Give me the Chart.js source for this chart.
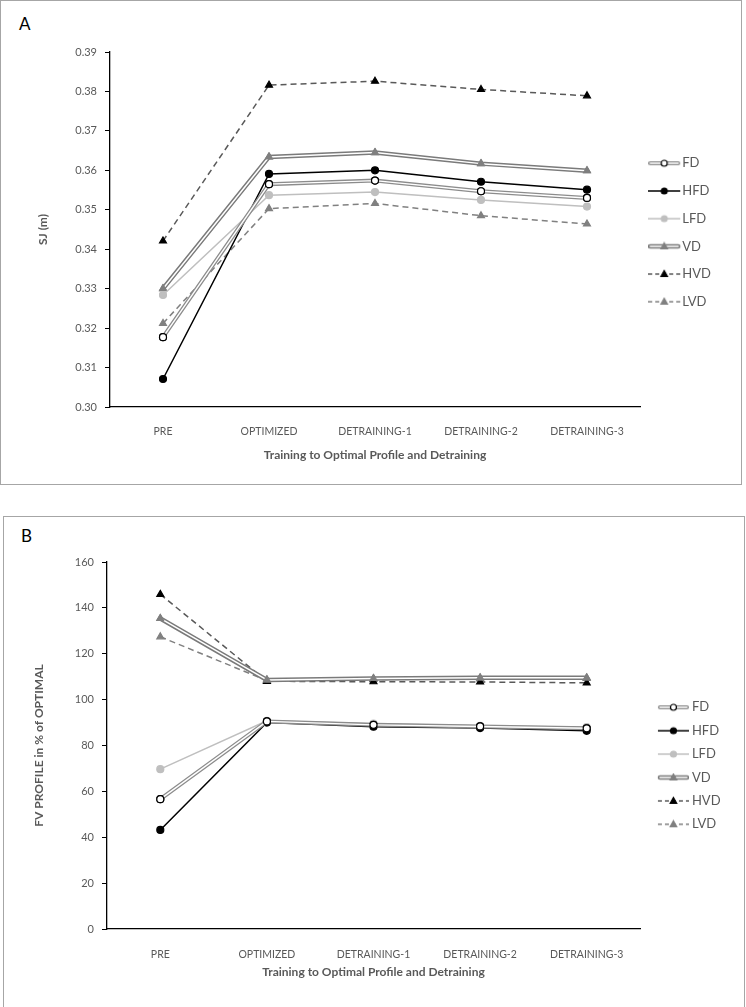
<!DOCTYPE html>
<html>
<head>
<meta charset="utf-8">
<script src="https://cdn.jsdelivr.net/npm/chart.js@4.4.1/dist/chart.umd.min.js"></script>
<style>
  body { margin: 0; background: #fff; width: 746px; height: 1007px; position: relative; overflow: hidden; }
  .frame { position: absolute; box-sizing: border-box; border: 1.5px solid #a6a6a6; }
  .tag { position: absolute; font-family: Lato, sans-serif; font-size: 17px; color: #000; }
  canvas { position: absolute; left: 0; }
</style>
</head>
<body>
<div class="frame" style="left:0;top:0;width:742px;height:485px"></div>
<div class="tag" style="left:19px;top:13px">A</div>
<canvas id="chartA" width="742" height="484" style="top:0"></canvas>

<div class="frame" style="left:3px;top:516px;width:742px;height:500px"></div>
<div class="tag" style="left:21px;top:525px">B</div>
<canvas id="chartB" width="746" height="491" style="top:516px"></canvas>

<script>
// categorias del eje x
var fases = ['PRE', 'OPTIMIZED', 'DETRAINING-1', 'DETRAINING-2', 'DETRAINING-3'];
var grupos = ['FD', 'HFD', 'LFD', 'VD', 'HVD', 'LVD'];

// Panel A: SJ (m)
var sjFD  = [0.3177, 0.3565, 0.3574, 0.3547, 0.3530];
var sjHFD = [0.3071, 0.3591, 0.3600, 0.3571, 0.3551];
var sjLFD = [0.3284, 0.3537, 0.3545, 0.3525, 0.3508];
var sjVD  = [0.3300, 0.3634, 0.3645, 0.3617, 0.3599];
var sjHVD = [0.3421, 0.3816, 0.3826, 0.3805, 0.3789];
var sjLVD = [0.3212, 0.3503, 0.3516, 0.3485, 0.3464];
var sjMin = 0.30, sjMax = 0.39, sjPaso = 0.01;

// Panel B: FV PROFILE in % of OPTIMAL
var fvFD  = [56.6, 90.5, 89.0, 88.3, 87.5];
var fvHFD = [43.2, 90.0, 88.2, 87.6, 86.4];
var fvLFD = [69.7, 90.8, 89.5, 88.6, 88.0];
var fvVD  = [135.4, 108.6, 109.2, 109.5, 109.5];
var fvHVD = [145.9, 108.0, 107.8, 107.7, 107.3];
var fvLVD = [127.4, 108.3, 108.8, 109.0, 109.2];
var fvMin = 0, fvMax = 160, fvPaso = 20;

var gris = '#595959';
var fuente = 'Lato, sans-serif';

// estilo de cada serie (mismo orden que grupos)
var estilos = [
  { color: '#8c8c8c', ancho: 4, interior: 1.4, marca: 'circle', relleno: '#fff', borde: '#000', radio: 3.5 },
  { color: '#000000', ancho: 1.5, marca: 'circle', relleno: '#000', borde: '#000', radio: 3.5 },
  { color: '#bfbfbf', ancho: 1.5, marca: 'circle', relleno: '#bfbfbf', borde: '#bfbfbf', radio: 3.5 },
  { color: '#7a7a7a', ancho: 4.5, interior: 1.5, marca: 'triangle', relleno: '#7f7f7f', borde: '#7f7f7f', radio: 4 },
  { color: '#595959', ancho: 1.5, guion: [6, 4], marca: 'triangle', relleno: '#000', borde: '#000', radio: 4 },
  { color: '#808080', ancho: 1.5, guion: [6, 4], marca: 'triangle', relleno: '#808080', borde: '#808080', radio: 4 }
];

// linea doble: se repinta el centro en blanco y luego los puntos
var lineaDoble = {
  id: 'lineaDoble',
  afterDatasetDraw: function (chart, args) {
    var ds = chart.data.datasets[args.index];
    if (!ds.interior) return;
    var pts = args.meta.data;
    var ctx = chart.ctx;
    ctx.save();
    ctx.strokeStyle = '#fff';
    ctx.lineWidth = ds.interior;
    ctx.lineJoin = 'round';
    ctx.beginPath();
    pts.forEach(function (p, i) { if (i === 0) ctx.moveTo(p.x, p.y); else ctx.lineTo(p.x, p.y); });
    ctx.stroke();
    pts.forEach(function (p) { p.draw(ctx, chart.chartArea); });
    ctx.restore();
  }
};

// icono de la leyenda: tramo de linea con la marca en el centro
function iconoLeyenda(e, largo, dx) {
  var c = document.createElement('canvas');
  var extra = Math.abs(dx) * 2;
  c.width = Math.round(largo + extra);
  c.height = 10;
  var g = c.getContext('2d');
  var x0 = dx > 0 ? extra : 0;
  var y = 5;
  g.lineCap = e.interior ? 'round' : 'butt';
  g.strokeStyle = e.color;
  g.lineWidth = e.ancho;
  g.setLineDash(e.guion ? [4, 3] : []);
  g.beginPath();
  g.moveTo(x0 + (e.interior ? 2 : 0), y);
  g.lineTo(x0 + largo - (e.interior ? 2 : 0), y);
  g.stroke();
  if (e.interior) {
    g.strokeStyle = '#fff';
    g.lineWidth = e.interior;
    g.beginPath();
    g.moveTo(x0 + 2, y);
    g.lineTo(x0 + largo - 2, y);
    g.stroke();
  }
  g.setLineDash([]);
  var cx = x0 + largo / 2;
  g.fillStyle = e.relleno;
  g.strokeStyle = e.borde;
  g.lineWidth = 1.2;
  g.beginPath();
  if (e.marca === 'circle') {
    g.arc(cx, y, 3, 0, Math.PI * 2);
  } else {
    g.moveTo(cx, y - 3.5);
    g.lineTo(cx + 3.3, y + 2.5);
    g.lineTo(cx - 3.3, y + 2.5);
    g.closePath();
  }
  g.fill();
  g.stroke();
  return c;
}

function crearSeries(valores) {
  return valores.map(function (datos, i) {
    var e = estilos[i];
    return {
      label: grupos[i],
      data: datos,
      borderColor: e.color,
      borderWidth: e.ancho,
      borderDash: e.guion || [],
      interior: e.interior,
      tension: 0,
      fill: false,
      pointStyle: e.marca,
      pointRadius: e.radio,
      pointBackgroundColor: e.relleno,
      pointBorderColor: e.borde,
      pointBorderWidth: 1.2
    };
  });
}

function crearGrafico(id, cfg) {
  var iconos = estilos.map(function (e) { return iconoLeyenda(e, cfg.iconoLargo, cfg.iconoDx); });
  var chart = new Chart(document.getElementById(id), {
    type: 'line',
    data: { labels: fases, datasets: crearSeries(cfg.series) },
    plugins: [lineaDoble],
    options: {
      responsive: false,
      animation: false,
      devicePixelRatio: 1,
      layout: { padding: { left: 0, top: cfg.arriba, right: 20, bottom: 0 } },
      plugins: {
        tooltip: { enabled: false },
        legend: {
          position: 'right',
          fullSize: false,
          title: { display: true, text: ' ', font: { size: 1 }, padding: cfg.tituloLeyenda },
          labels: {
            usePointStyle: true,
            pointStyleWidth: cfg.cajaLeyenda,
            padding: cfg.sepLeyenda,
            color: gris,
            font: { family: fuente, size: 13 },
            generateLabels: function (ch) {
              return ch.data.datasets.map(function (ds, i) {
                return { text: ds.label, pointStyle: iconos[i], datasetIndex: i, lineWidth: 0, fontColor: gris, hidden: false };
              });
            }
          }
        }
      },
      scales: {
        x: {
          offset: true,
          grid: { display: false, offset: true },
          border: { display: true, color: '#000', width: 1.3 },
          ticks: { color: gris, font: { family: fuente, size: 10.5 }, padding: cfg.xPad, maxRotation: 0, autoSkip: false },
          title: { display: true, text: 'Training to Optimal Profile and Detraining', color: gris,
                   font: { family: fuente, size: 12, weight: 'bold' }, padding: { top: 0, bottom: cfg.xTituloPad } },
          afterFit: function (s) { s.height = cfg.altoX; }
        },
        y: {
          min: cfg.min, max: cfg.max,
          grid: { drawOnChartArea: false, drawTicks: true, tickLength: 5, color: '#000', lineWidth: 1 },
          border: { display: true, color: '#000', width: 1.3 },
          ticks: {
            stepSize: cfg.paso, padding: 8, color: gris, font: { family: fuente, size: 11 },
            callback: function (v) { return Number(v).toFixed(cfg.decimales); }
          },
          title: { display: true, text: cfg.tituloY, color: gris,
                   font: { family: fuente, size: 12, weight: 'bold' }, padding: { top: cfg.yTituloPad, bottom: 0 } },
          afterFit: function (s) { s.width = cfg.anchoY; }
        }
      }
    }
  });
  // ajustar para que el area del grafico termine en el mismo sitio que el original
  var dif = chart.chartArea.right - cfg.derecha;
  chart.options.layout.padding.right += dif;
  chart.update('none');
  return chart;
}

crearGrafico('chartA', {
  series: [sjFD, sjHFD, sjLFD, sjVD, sjHVD, sjLVD],
  min: sjMin, max: sjMax, paso: sjPaso, decimales: 2,
  tituloY: 'SJ (m)',
  arriba: 52, altoX: 77, anchoY: 110, derecha: 640,
  xPad: 10, xTituloPad: 22, yTituloPad: 36,
  sepLeyenda: 14.7, cajaLeyenda: 21, iconoLargo: 32, iconoDx: -1, tituloLeyenda: 2.4
});

crearGrafico('chartB', {
  series: [fvFD, fvHFD, fvLFD, fvVD, fvHVD, fvLVD],
  min: fvMin, max: fvMax, paso: fvPaso, decimales: 0,
  tituloY: 'FV PROFILE in % of OPTIMAL',
  arriba: 46, altoX: 78, anchoY: 107, derecha: 640,
  xPad: 11, xTituloPad: 28, yTituloPad: 32,
  sepLeyenda: 10.4, cajaLeyenda: 35, iconoLargo: 31, iconoDx: 5.5, tituloLeyenda: 19.7
});
</script>
</body>
</html>
